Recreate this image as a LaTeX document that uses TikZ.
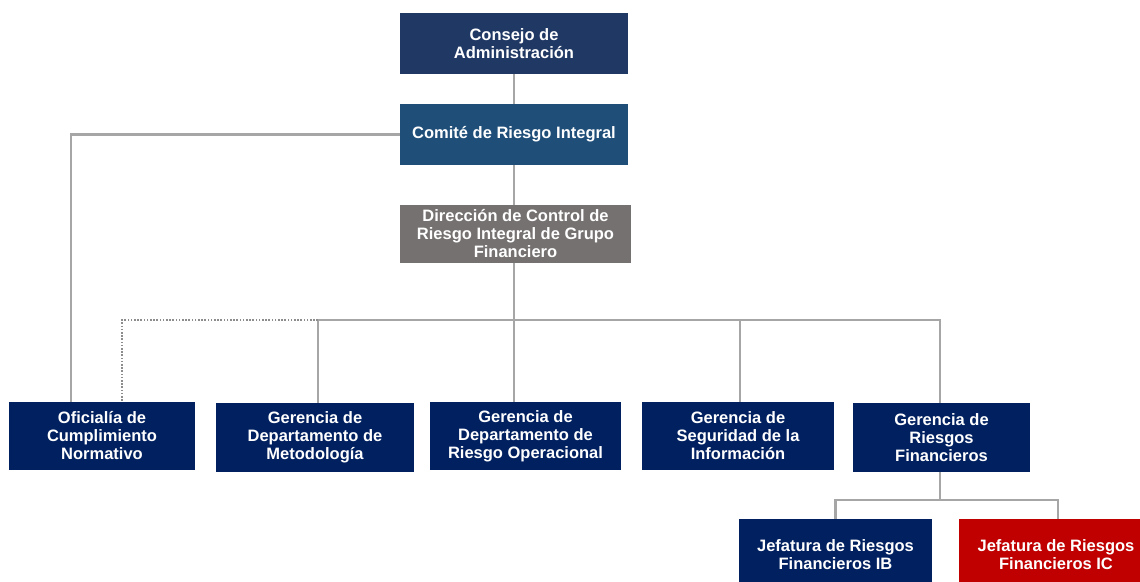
\documentclass[tikz,border=0pt]{standalone}
\usepackage{fontspec}
\setmainfont{Liberation Sans}
\begin{document}
\begin{tikzpicture}[x=1pt,y=-1pt]
\definecolor{cConsejo}{HTML}{203864}
\definecolor{cComite}{HTML}{1F4E79}
\definecolor{cDir}{HTML}{767171}
\definecolor{cNavy}{HTML}{002060}
\definecolor{cRed}{HTML}{C00000}
\definecolor{cLine}{HTML}{A6A6A6}
\tikzset{
  box/.style={draw=none, text=white, font=\bfseries\fontsize{16.5}{18}\selectfont, align=center, inner sep=0pt},
  conn/.style={draw=cLine, line width=2.8pt},
  dotconn/.style={draw=cLine!85!black, line width=2pt, dash pattern=on 1.6pt off 1.6pt}
}
\useasboundingbox (0,0) rectangle (1140,581);
\clip (0,0) rectangle (1140,581);
% top chain
\node[box, fill=cConsejo, minimum width=228pt, minimum height=61pt] (consejo) at (514,43.5) {Consejo de\\Administración};
\node[box, fill=cComite, minimum width=228pt, minimum height=61pt] (comite) at (514,134.5) {Comité de Riesgo Integral};
\node[box, fill=cDir, minimum width=231pt, minimum height=58pt] (direccion) at (515.5,234) {Dirección de Control de\\Riesgo Integral de Grupo\\Financiero};
% second level
\node[box, fill=cNavy, minimum width=186pt, minimum height=68pt] (oficialia) at (102,436) {Oficialía de\\Cumplimiento\\Normativo};
\node[box, fill=cNavy, minimum width=198pt, minimum height=69pt] (metod) at (315,437.5) {Gerencia de\\Departamento de\\Metodología};
\node[box, fill=cNavy, minimum width=191pt, minimum height=68pt] (oper) at (525.5,436) {Gerencia de\\Departamento de\\Riesgo Operacional};
\node[box, fill=cNavy, minimum width=192pt, minimum height=68pt] (segur) at (738,436) {Gerencia de\\Seguridad de la\\Información};
\node[box, fill=cNavy, minimum width=177pt, minimum height=69pt] (finan) at (941.5,437.5) {Gerencia de\\Riesgos\\Financieros};
% third level
\node[box, fill=cNavy, minimum width=193pt, minimum height=72pt] (jefib) at (835.5,555) {Jefatura de Riesgos\\Financieros IB};
\node[box, fill=cRed, minimum width=194pt, minimum height=72pt] (jefic) at (1056,555) {Jefatura de Riesgos\\Financieros IC};
% helper coordinates
\coordinate (bus) at (318,320);
\coordinate (fbus) at (940,500);
% connectors
\draw[conn] (consejo.south) -- (comite.north);
\draw[conn] (comite.south) -- (comite.south |- direccion.north);
\draw[conn] (comite.south |- direccion.south) -- (comite.south |- oper.north);
\draw[conn] ([xshift=3pt]metod.north) |- ([xshift=-1.5pt]finan.north |- bus) -- ([xshift=-1.5pt]finan.north);
\draw[conn] ([xshift=2pt]segur.north) -- ([xshift=2pt]segur.north |- bus);
\draw[conn] (comite.west) -| ([xshift=-31pt]oficialia.north);
\draw[dotconn] ([xshift=3pt]metod.north |- bus) -| ([xshift=20pt]oficialia.north);
\draw[conn] ([xshift=-1.5pt]finan.south) -- ([xshift=-1.5pt]finan.south |- fbus);
\draw[conn] (jefib.north) |- ([xshift=2pt]jefic.north |- fbus) -- ([xshift=2pt]jefic.north);
\end{tikzpicture}
\end{document}
